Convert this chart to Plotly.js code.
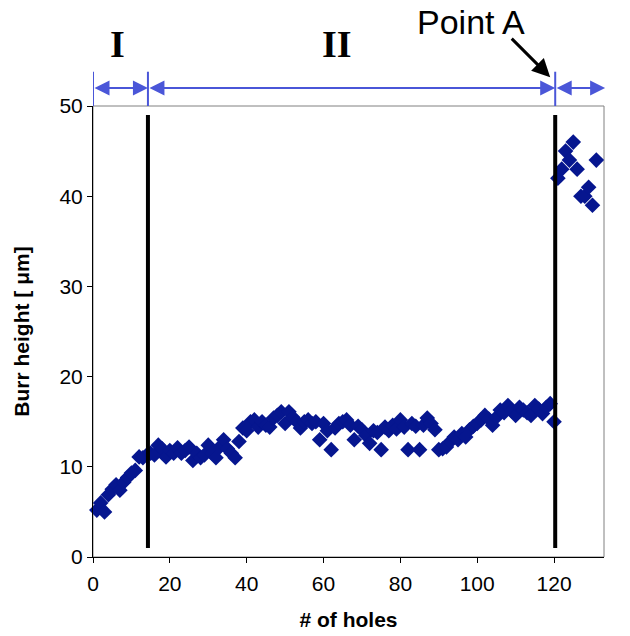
<!DOCTYPE html>
<html>
<head>
<meta charset="utf-8">
<script src="https://cdn.plot.ly/plotly-3.0.1.min.js"></script>
<style>html,body{margin:0;padding:0;background:#fff;}#chart{width:630px;height:636px;}</style>
</head>
<body>
<div id="chart"></div>
<script>
// Hole index
const holes = [1,2,3,4,5,6,7,8,9,10,11,12,13,14,15,16,17,18,19,20,
21,22,23,24,25,26,27,28,29,30,31,32,33,34,35,36,37,38,39,40,
41,42,43,44,45,46,47,48,49,50,51,52,53,54,55,56,57,58,59,60,
61,62,63,64,65,66,67,68,69,70,71,72,73,74,75,76,77,78,79,80,
81,82,83,84,85,86,87,88,89,90,91,92,93,94,95,96,97,98,99,100,
101,102,103,104,105,106,107,108,109,110,111,112,113,114,115,116,117,118,119,120,
121,122,123,124,125,126,127,128,129,130,131];
// Burr height [um]
const burrHeight = [5.2,6,5,6.9,7.5,8,7.4,8.3,8.8,9.3,9.6,11.1,11,11.3,
11.5,11.3,12.4,12,11.1,11.8,11.5,12.1,11.5,11.8,12.2,10.7,11.5,11,11.3,12.4,
11.5,11,12.2,13,12,11.5,11,12.8,14.3,14,15,15.2,14.4,15,14.6,14.4,15.4,15.7,16.1,14.8,
16.1,15.5,15,14.3,15,15.2,14.8,15,13,14.8,14,11.9,14.3,14.8,15,15.2,14.6,13,14.5,14.1,
13.5,12.6,14,13.8,11.9,14.4,14,14.6,14.2,15.2,14.4,11.9,14.8,14.5,11.9,14.6,15.4,14.8,14.1,11.9,
12,12.2,12.8,13.3,13,13.7,13.3,14.1,14.5,14.8,15.2,15.7,15.3,14.6,15.5,16.3,16,16.8,16.2,15.7,
16.6,16.3,16,15.7,16.8,16.4,15.9,16.6,17,15,
42,43,45,44,46,43,40,40,41,39,44];
// Region boundaries (# of holes)
const regionEdges = [0, 14.3, 120.3, 133.3];
const regionLabels = ['I', 'II', 'III'];
const regionLabelX = [6.4, 63.5, 133.3];
const pointA = {x: 119, label: 'Point A'};

const blue = '#4a56d8';
const navy = '#06168f';
const sans = 'Liberation Sans, Arial, sans-serif';

const shapes = [];
// plot frame (grey)
shapes.push({type:'rect', xref:'paper', yref:'paper', x0:0, x1:1, y0:0, y1:1,
  line:{color:'#808080', width:1}, layer:'below'});
// vertical black region lines
[regionEdges[1], regionEdges[2]].forEach(v => shapes.push({
  type:'line', xref:'x', yref:'y', x0:v, x1:v, y0:1, y1:49,
  line:{color:'#000', width:4}}));
// blue dimension ticks above the plot
regionEdges.forEach(v => shapes.push({
  type:'line', xref:'x', yref:'paper', x0:v, x1:v, y0:1, y1:1.076,
  line:{color:blue, width:2}}));

const annotations = [];
for (let i = 0; i < 3; i++) {
  annotations.push({
    x: regionEdges[i+1], y: 1.04, xref:'x', yref:'paper',
    ax: regionEdges[i], ay: 0, axref:'x', ayref:'pixel',
    text:'', showarrow:true, arrowside:'end+start',
    arrowhead:2, startarrowhead:2, arrowsize:1.5, startarrowsize:1.5,
    arrowwidth:2, arrowcolor:blue, standoff:0, startstandoff:0
  });
  annotations.push({
    x: regionLabelX[i], y: 1.137, xref:'x', yref:'paper',
    text:'<b>' + regionLabels[i] + '</b>', showarrow:false,
    xanchor:'center', yanchor:'middle',
    font:{family:'Liberation Serif, Times New Roman, serif', size:38, color:'#000'}
  });
}
annotations.push({
  x: pointA.x, y: 1.064, xref:'x', yref:'paper',
  ax: -40, ay: -40, text:'', showarrow:true,
  arrowhead:2, arrowsize:1.2, arrowwidth:3, arrowcolor:'#000'
});
annotations.push({
  x: 98.5, y: 1.186, xref:'x', yref:'paper', text: pointA.label, showarrow:false,
  xanchor:'center', yanchor:'middle', font:{family:sans, size:34, color:'#000'}
});

const trace = {
  x: holes, y: burrHeight, type:'scatter', mode:'markers',
  marker:{symbol:'diamond', size:12, color:navy, line:{width:0}},
  hoverinfo:'skip', cliponaxis:false
};

const layout = {
  width:630, height:636,
  margin:{l:93, r:26, t:106, b:79, pad:0},
  paper_bgcolor:'#fff', plot_bgcolor:'#fff',
  showlegend:false,
  font:{family:sans, color:'#000'},
  xaxis:{
    range:[0,133], tickvals:[0,20,40,60,80,100,120], ticktext:['0','20','40','60','80','100','120'],
    showgrid:false, zeroline:false, showline:true, linecolor:'#000', linewidth:1,
    ticks:'outside', ticklen:5, tickcolor:'#000', tickfont:{family:sans, size:21, color:'#000'},
    ticklabelstandoff:3,
    title:{text:'<b># of holes</b>', font:{family:sans, size:21, color:'#000'}, standoff:18},
    automargin:false, fixedrange:true
  },
  yaxis:{
    range:[0,50], tickvals:[0,10,20,30,40,50],
    showgrid:false, zeroline:false, showline:true, linecolor:'#000', linewidth:1,
    ticks:'outside', ticklen:5, tickcolor:'#000', tickfont:{family:sans, size:21, color:'#000'},
    title:{text:'<b>Burr height [ μm]</b>', font:{family:sans, size:21, color:'#000'}, standoff:24},
    automargin:false, fixedrange:true
  },
  shapes: shapes,
  annotations: annotations
};

Plotly.newPlot('chart', [trace], layout, {displayModeBar:false, staticPlot:true});
</script>
</body>
</html>
